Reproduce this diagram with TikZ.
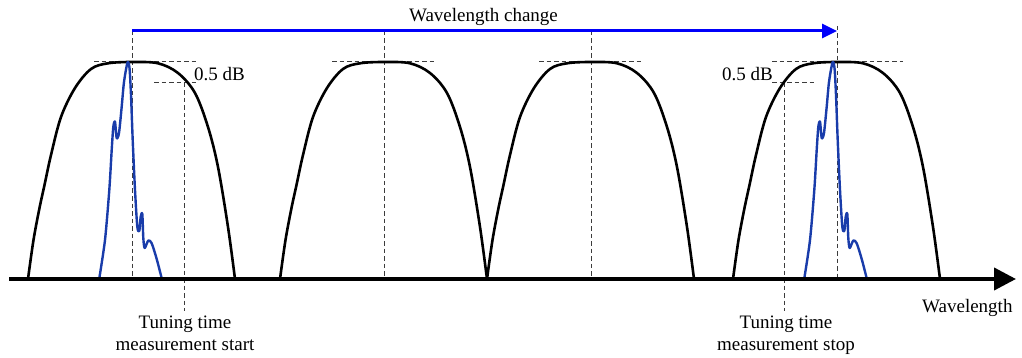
\documentclass[tikz,border=0pt]{standalone}
\usepackage{fontspec}
\setmainfont{Liberation Serif}
\usetikzlibrary{arrows.meta}
\definecolor{specblue}{RGB}{25,60,170}
\definecolor{arrblue}{RGB}{0,0,250}
\definecolor{dashgray}{RGB}{60,60,60}
\tikzset{
  peak/.style={line width=2.6pt, black, line join=round},
  spec/.style={line width=2.4pt, specblue, line join=round, line cap=round},
  guide/.style={line width=1pt, dashgray, dash pattern=on 4.5pt off 3pt},
  lbl/.style={inner sep=0pt, font=\rmfamily\fontsize{19}{22}\selectfont},
}
\begin{document}
\begin{tikzpicture}[x=1pt,y=-1pt]
\useasboundingbox (0,0) rectangle (1022,358);

% named points
\coordinate (axL) at (9,279);
\coordinate (axR) at (1016,279);
\coordinate (chS) at (132,31);
\coordinate (chE) at (837,31);

% guide lines
\foreach \c/\t/\l/\r in {132/31/94/197, 384/31/332/435, 591/31/539/643, 837/26/772/903}{
  \coordinate (v\c top) at (\c,\t);
  \coordinate (v\c bot) at (\c,279);
  \draw[guide] (v\c top) -- (v\c bot);
  \coordinate (h\c l) at (\l,62);
  \coordinate (h\c r) at (\r,62);
  \draw[guide] (h\c l) -- (h\c r);
}
% 0.5 dB markers
\coordinate (dA1) at (154,83); \coordinate (dA2) at (198,83);
\coordinate (dA3) at (184,83); \coordinate (dA4) at (184,311);
\draw[guide] (dA1) -- (dA2);
\draw[guide] (dA3) -- (dA4);
\coordinate (dB1) at (772,83); \coordinate (dB2) at (815,83);
\coordinate (dB3) at (784,83); \coordinate (dB4) at (784,311);
\draw[guide] (dB1) -- (dB2);
\draw[guide] (dB3) -- (dB4);

% filter passbands
\foreach \c in {132,384,591,837}{
  \begin{scope}[shift={(\c,0)}]
  \draw[peak] plot[smooth, tension=0.55] coordinates {
    (-104,279) (-98.5,240) (-92.5,208) (-87.5,185) (-81,155) (-71,117) (-57,88)
    (-41,69) (-24,63.3) (0,62) (26,63.3) (46,73) (63,93) (76,127) (86,167)
    (96,227) (103,279)};
  \end{scope}
}

% laser spectra
\foreach \s in {0,705}{
  \begin{scope}[shift={(\s,0)}]
  \draw[spec] plot[smooth, tension=0.45] coordinates {
    (99.3,278.3) (105,240) (109.3,190) (111.7,150) (113.3,127) (115,121.7)
    (116.7,138) (119,133) (121.7,106.7) (124,82) (127.5,62.5)
    (129.5,68) (131,95) (132.7,140) (135,190) (137.3,226.7) (139.3,231)
    (140.7,216.7) (142.3,214) (143.3,238) (144.7,248) (148.3,240.5)
    (151.7,243.3) (156.7,259) (161.7,278.3)};
  \end{scope}
}

% axis
\draw[line width=4pt, -{Triangle[length=22pt,width=22pt]}] (axL) -- (axR);
% wavelength change arrow
\draw[line width=3pt, arrblue, -{Triangle[length=15pt,width=14pt]}] (chS) -- (chE);

% labels
\node[lbl, anchor=base] (wc) at (483.5,22) {Wavelength change};
\node[lbl, anchor=base west] (db1) at (194,81) {0.5 dB};
\node[lbl, anchor=base east] (db2) at (773,81) {0.5 dB};
\node[lbl, anchor=base west] (wl) at (922,312) {Wavelength};
\node[lbl, anchor=north, align=center] (tstart) at (185,316) {Tuning time\\measurement start};
\node[lbl, anchor=north, align=center] (tstop) at (786,316) {Tuning time\\measurement stop};
\end{tikzpicture}
\end{document}
